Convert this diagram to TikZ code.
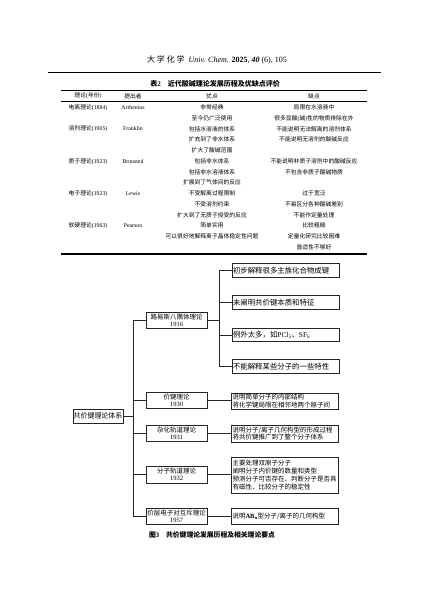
\documentclass[tikz,border=0pt]{standalone}
\usepackage{fontspec}
\setmainfont{Liberation Serif}
\newfontfamily\cjk{Noto Sans CJK SC}
\newcommand{\z}[1]{{\cjk #1}}
\begin{document}
\begin{tikzpicture}[x=1pt,y=-1pt,
  tab/.style={font=\fontsize{5.8}{7}\selectfont, inner sep=0pt},
  box/.style={draw=black!85, line width=0.6pt, inner sep=0pt, font=\cjk\fontsize{6.5}{7.8}\selectfont},
  lvone/.style={box, minimum width=61pt, align=center},
  lvtwo/.style={box, minimum width=107pt, text width=105pt, align=left},
  lvtwoa/.style={lvtwo, font=\cjk\fontsize{7.4}{8}\selectfont, minimum height=13.5pt},
  link/.style={black!85, line width=0.9pt},
  thinrule/.style={line width=0.5pt},
  thickrule/.style={line width=1.3pt}]
\useasboundingbox (0,0) rectangle (427,603);
\fill[white] (0,0) rectangle (427,603);

% page header
\node[font=\fontsize{8}{9}\selectfont, inner sep=0pt] (hdr) at (217,60)
  {\z{大\ 学\ 化\ 学}\ \ \textit{Univ. Chem.} \textbf{2025}, \textbf{\textit{40}} (6), 105};
\coordinate (hl) at (48,72.5);
\coordinate (hr) at (381,72.5);
\draw[line width=0.8pt] (hl) -- (hr);

% table title
\node[font=\fontsize{7}{8}\selectfont\bfseries, inner sep=0pt] (ttl) at (215,84)
  {\z{表}2\quad\z{近代酸碱理论发展历程及优缺点评价}};

% table rules
\coordinate (t1l) at (61,90);   \coordinate (t1r) at (367,90);
\coordinate (t2l) at (61,101.5);\coordinate (t2r) at (367,101.5);
\coordinate (t3l) at (61,254);  \coordinate (t3r) at (367,254);
\draw[thinrule] (t1l) -- (t1r);
\draw[thickrule] (t2l) -- (t2r);
\draw[thickrule] (t3l) -- (t3r);

% header row
\node[tab] (h1) at (88,96) {\z{理论}(\z{年份})};
\node[tab] (h2) at (133,96) {\z{提出者}};
\node[tab] (h3) at (212,96) {\z{优点}};
\node[tab] (h4) at (314,96) {\z{缺点}};

% rows
\node[tab] (r0a) at (88,107.5) {\z{电离理论}(1884)};
\node[tab] (r0b) at (133,107.5) {Arrhenius};
\node[tab] (r0c) at (212,107.5) {\z{非常经典}};
\node[tab] (r0d) at (314,107.5) {\z{局限在水溶液中}};

\node[tab] (r1c) at (212,118.25) {\z{至今仍广泛使用}};
\node[tab] (r1d) at (314,118.25) {\z{很多显酸}(\z{碱})\z{性的物质排除在外}};

\node[tab] (r2a) at (88,129) {\z{溶剂理论}(1905)};
\node[tab] (r2b) at (133,129) {Franklin};
\node[tab] (r2c) at (212,129) {\z{包括水溶液的体系}};
\node[tab] (r2d) at (314,129) {\z{不能说明无法解离的溶剂体系}};

\node[tab] (r3c) at (212,139.75) {\z{扩充到了非水体系}};
\node[tab] (r3d) at (314,139.75) {\z{不能说明无溶剂的酸碱反应}};

\node[tab] (r4c) at (212,150.5) {\z{扩大了酸碱范围}};

\node[tab] (r5a) at (88,161.25) {\z{质子理论}(1923)};
\node[tab] (r5b) at (133,161.25) {Bronsted};
\node[tab] (r5c) at (212,161.25) {\z{包括非水体系}};
\node[tab] (r5d) at (314,161.25) {\z{不能说明非质子溶剂中的酸碱反应}};

\node[tab] (r6c) at (212,172) {\z{包括非水溶液体系}};
\node[tab] (r6d) at (314,172) {\z{不包含非质子酸碱物质}};

\node[tab] (r7c) at (212,182.75) {\z{扩展到了气体间的反应}};

\node[tab] (r8a) at (88,193.5) {\z{电子理论}(1923)};
\node[tab] (r8b) at (133,193.5) {Lewis};
\node[tab] (r8c) at (212,193.5) {\z{不受解离过程限制}};
\node[tab] (r8d) at (314,193.5) {\z{过于宽泛}};

\node[tab] (r9c) at (212,204.25) {\z{不受溶剂约束}};
\node[tab] (r9d) at (314,204.25) {\z{不易区分各种酸碱差别}};

\node[tab] (r10c) at (212,215) {\z{扩大到了无质子授受的反应}};
\node[tab] (r10d) at (314,215) {\z{不能作定量处理}};

\node[tab] (r11a) at (88,225.75) {\z{软硬理论}(1963)};
\node[tab] (r11b) at (133,225.75) {Pearson};
\node[tab] (r11c) at (212,225.75) {\z{简单实用}};
\node[tab] (r11d) at (314,225.75) {\z{比较粗糙}};

\node[tab] (r12c) at (212,236.5) {\z{可以很好地解释离子晶体稳定性问题}};
\node[tab] (r12d) at (314,236.5) {\z{定量化研究比较困难}};

\node[tab] (r13d) at (314,247.25) {\z{普适性不够好}};

% ---------- figure ----------
\node[box, font=\cjk\fontsize{7}{8}\selectfont, minimum width=50pt, minimum height=14pt] (root) at (98,416) {共价键理论体系};

\node[lvone, minimum height=16pt] (A) at (176.5,320) {路易斯八隅体理论\\[-0.5pt]{\rmfamily 1916}};
\node[lvone, minimum height=15.5pt] (B) at (176.5,400.5) {价键理论\\[-0.5pt]{\rmfamily 1930}};
\node[lvone, minimum height=16pt] (C) at (176.5,433) {杂化轨道理论\\[-0.5pt]{\rmfamily 1931}};
\node[lvone, minimum height=17pt] (D) at (176.5,474.5) {分子轨道理论\\[-0.5pt]{\rmfamily 1932}};
\node[lvone, minimum height=16pt] (E) at (176.5,516) {价层电子对互斥理论\\[-0.5pt]{\rmfamily 1957}};

\node[lvtwoa] (A1) at (285.5,270.5) {初步解释很多主族化合物成键};
\node[lvtwoa] (A2) at (285.5,302.5) {未阐明共价键本质和特征};
\node[lvtwoa] (A3) at (285.5,335) {例外太多，如{\rmfamily PCl\textsubscript{5}}、{\rmfamily SF\textsubscript{6}}};
\node[lvtwoa] (A4) at (285.5,366.5) {不能解释某些分子的一些特性};

\node[lvtwo, minimum height=16pt] (B2) at (285,401) {说明简单分子的内部结构\\将化学键局限在相邻地两个原子间};
\node[lvtwo, minimum height=17pt] (C2) at (285,433.5) {说明分子/离子几何构型的形成过程\\将共价键推广到了整个分子体系};
\node[lvtwo, minimum height=36pt] (D2) at (285,475) {主要处理双原子分子\\阐明分子内价键的数量和类型\\预测分子可否存在、判断分子是否具\\有磁性、比较分子的稳定性};
\node[lvtwo, minimum height=16pt] (E2) at (285,516) {说明{\rmfamily\bfseries AB\textsubscript{n}}型分子/离子的几何构型};

% trunk
\coordinate (tk) at (133,416);
\draw[link, line width=0.7pt] (root.east) -- (tk);
\draw[link, line width=0.7pt] (A.west -| tk) -- (E.west -| tk);
\foreach \n in {A,B,C,D,E}
  \draw[link, line width=0.7pt] (\n.west -| tk) -- (\n.west);

% branch of A
\coordinate (ab) at (219,320);
\draw[link, line width=0.7pt] (A.east) -- (ab);
\draw[link, line width=0.7pt] (A1.west -| ab) -- (A4.west -| ab);
\foreach \n in {A1,A2,A3,A4}
  \draw[link, line width=0.7pt] (\n.west -| ab) -- (\n.west);

% direct links
\draw[link] (B.east) -- (B2.west |- B.east);
\draw[link] (C.east) -- (C2.west |- C.east);
\draw[link] (D.east) -- (D2.west |- D.east);
\draw[link] (E.east) -- (E2.west |- E.east);

% caption
\node[font=\fontsize{6.8}{8}\selectfont\bfseries, inner sep=0pt] (cap) at (212,535)
  {\z{图}3\quad\z{共价键理论发展历程及相关理论要点}};
\end{tikzpicture}
\end{document}
